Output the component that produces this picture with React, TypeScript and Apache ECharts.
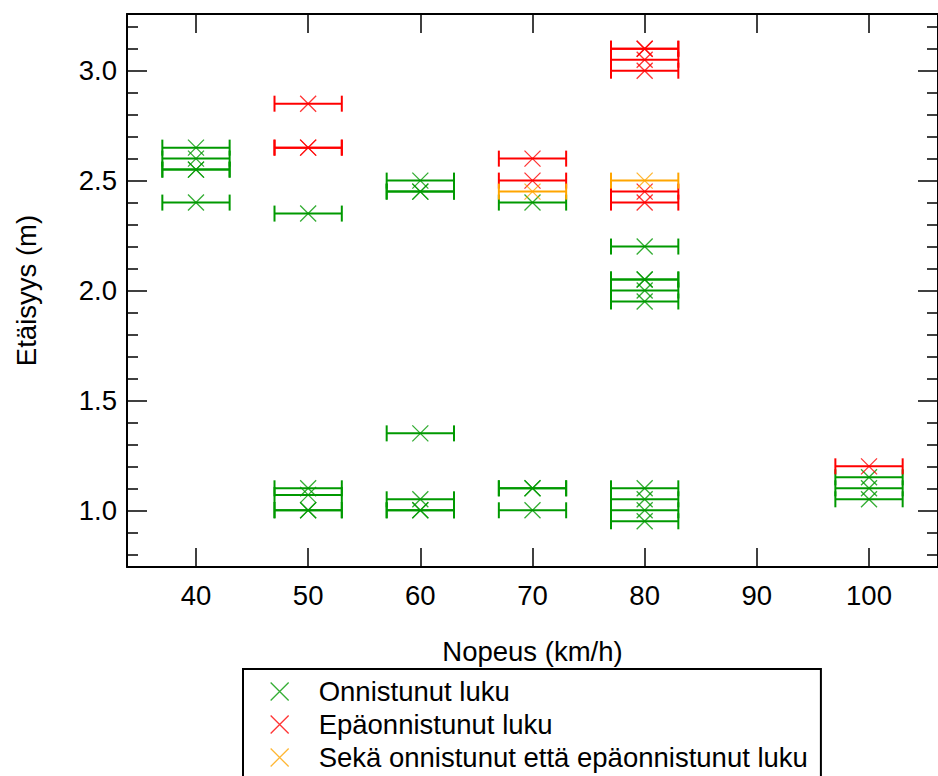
import React, { useEffect, useRef } from 'react';
import * as echarts from 'echarts';

// Horizontal error (± km/h) of every reading
const X_ERROR = 3;

// [speed km/h, distance m]
const onnistunut: [number, number][] = [
  [40, 2.65], [40, 2.6], [40, 2.55], [40, 2.55], [40, 2.4],
  [50, 2.35], [50, 1.1], [50, 1.07], [50, 1.0], [50, 1.0],
  [60, 2.5], [60, 2.45], [60, 2.45], [60, 1.35], [60, 1.05], [60, 1.0], [60, 1.0],
  [70, 2.4], [70, 1.1], [70, 1.1], [70, 1.0],
  [80, 2.2], [80, 2.05], [80, 2.05], [80, 2.0], [80, 1.95], [80, 1.1], [80, 1.05], [80, 1.0], [80, 0.95],
  [100, 1.15], [100, 1.1], [100, 1.05],
];
const epaonnistunut: [number, number][] = [
  [50, 2.85], [50, 2.65], [50, 2.65],
  [70, 2.6], [70, 2.5],
  [80, 3.1], [80, 3.1], [80, 3.05], [80, 3.0], [80, 2.45], [80, 2.4],
  [100, 1.2],
];
const molemmat: [number, number][] = [
  [70, 2.45],
  [80, 2.5],
];

const SERIES_NAMES = [
  'Onnistunut luku',
  'Epäonnistunut luku',
  'Sekä onnistunut että epäonnistunut luku',
];
const SERIES_DATA = [onnistunut, epaonnistunut, molemmat];
const COLORS = ['#009900', '#ff0000', '#ffa500'];

const X_MIN = 33.85;
const X_MAX = 106.15;
const Y_MIN = 0.742;
const Y_MAX = 3.258;

const FONT = "'Liberation Sans', Arial, sans-serif";
const CROSS = 'path://M0,0L10,10M10,0L0,10';

function errorBars(data: [number, number][], color: string, idx: number) {
  return {
    type: 'custom',
    name: 'err' + idx,
    data: data.map(([x, y]) => [x, y, X_ERROR]),
    encode: { x: 0, y: 1 },
    silent: true,
    z: 2,
    renderItem: (_params: any, api: any) => {
      const x = api.value(0);
      const y = api.value(1);
      const e = api.value(2);
      const p1 = api.coord([x - e, y]);
      const p2 = api.coord([x + e, y]);
      const cap = 8;
      const style = { stroke: color, lineWidth: 2, fill: 'none' };
      return {
        type: 'group',
        children: [
          { type: 'line', shape: { x1: p1[0], y1: p1[1], x2: p2[0], y2: p2[1] }, style },
          { type: 'line', shape: { x1: p1[0], y1: p1[1] - cap, x2: p1[0], y2: p1[1] + cap }, style },
          { type: 'line', shape: { x1: p2[0], y1: p2[1] - cap, x2: p2[0], y2: p2[1] + cap }, style },
        ],
      };
    },
  };
}

function crossSeries(data: [number, number][], color: string, name: string) {
  return {
    type: 'scatter',
    name,
    data,
    symbol: CROSS,
    symbolSize: 16,
    z: 3,
    silent: true,
    itemStyle: { color: 'rgba(0,0,0,0)', borderColor: color, borderWidth: 1.3 },
  };
}

export default function App() {
  const ref = useRef<HTMLDivElement>(null);
  useEffect(() => {
    if (!ref.current) return;
    const chart = echarts.init(ref.current, undefined, { renderer: 'svg' });

    const axisLine = { show: true, onZero: false, lineStyle: { color: '#000', width: 2 } };
    const tickStyle = { color: '#000', width: 1.5 };
    const labelStyle = { color: '#000', fontSize: 27.5, fontFamily: FONT };

    const series: any[] = [];
    SERIES_DATA.forEach((d, i) => {
      series.push(errorBars(d, COLORS[i], i));
      series.push(crossSeries(d, COLORS[i], SERIES_NAMES[i]));
    });

    chart.setOption({
      animation: false,
      backgroundColor: '#fff',
      grid: { left: 127, top: 14, right: -5, bottom: 209, containLabel: false },
      xAxis: [
        {
          type: 'value',
          min: X_MIN,
          max: X_MAX,
          position: 'bottom',
          axisLine,
          axisTick: { show: true, inside: true, length: 19, lineStyle: tickStyle },
          axisLabel: { ...labelStyle, margin: 14, showMinLabel: false, showMaxLabel: false },
          splitLine: { show: false },
          name: 'Nopeus (km/h)',
          nameLocation: 'middle',
          nameGap: 70,
          nameTextStyle: labelStyle,
        },
        {
          type: 'value',
          min: X_MIN,
          max: X_MAX,
          position: 'top',
          axisLine,
          axisTick: { show: true, inside: true, length: 19, lineStyle: tickStyle },
          axisLabel: { show: false },
          splitLine: { show: false },
        },
      ],
      yAxis: [
        {
          type: 'value',
          min: Y_MIN,
          max: Y_MAX,
          position: 'left',
          axisLine,
          axisTick: { show: true, inside: true, length: 20, lineStyle: tickStyle },
          minorTick: { show: true, splitNumber: 5, length: 11, lineStyle: tickStyle },
          axisLabel: {
            ...labelStyle,
            margin: 10,
            showMinLabel: false,
            showMaxLabel: false,
            formatter: (v: number) => v.toFixed(1),
          },
          splitLine: { show: false },
          minorSplitLine: { show: false },
          name: 'Etäisyys (m)',
          nameLocation: 'middle',
          nameGap: 87,
          nameTextStyle: labelStyle,
        },
        {
          type: 'value',
          min: Y_MIN,
          max: Y_MAX,
          position: 'right',
          axisLine,
          axisTick: { show: true, inside: true, length: 20, lineStyle: tickStyle },
          minorTick: { show: true, splitNumber: 5, length: 11, lineStyle: tickStyle },
          axisLabel: { show: false },
          splitLine: { show: false },
          minorSplitLine: { show: false },
        },
      ],
      legend: {
        orient: 'vertical',
        left: 243,
        top: 669,
        width: 600,
        height: 130,
        padding: [6, 13, 14, 27],
        borderColor: '#000',
        borderWidth: 2,
        itemWidth: 18,
        itemHeight: 18,
        itemGap: 0,
        selectedMode: false,
        textStyle: {
          color: '#000',
          fontSize: 27.5,
          fontFamily: FONT,
          lineHeight: 33,
          padding: [0, 0, 0, 25],
        },
        data: SERIES_NAMES.map((n, i) => ({
          name: n,
          icon: CROSS,
          itemStyle: { color: 'rgba(0,0,0,0)', borderColor: COLORS[i], borderWidth: 1.3 },
        })),
      },
      series,
    });
    return () => chart.dispose();
  }, []);

  return (
    <div
      ref={ref}
      style={{ position: 'absolute', left: 0, top: 0, width: 938, height: 776 }}
    />
  );
}
